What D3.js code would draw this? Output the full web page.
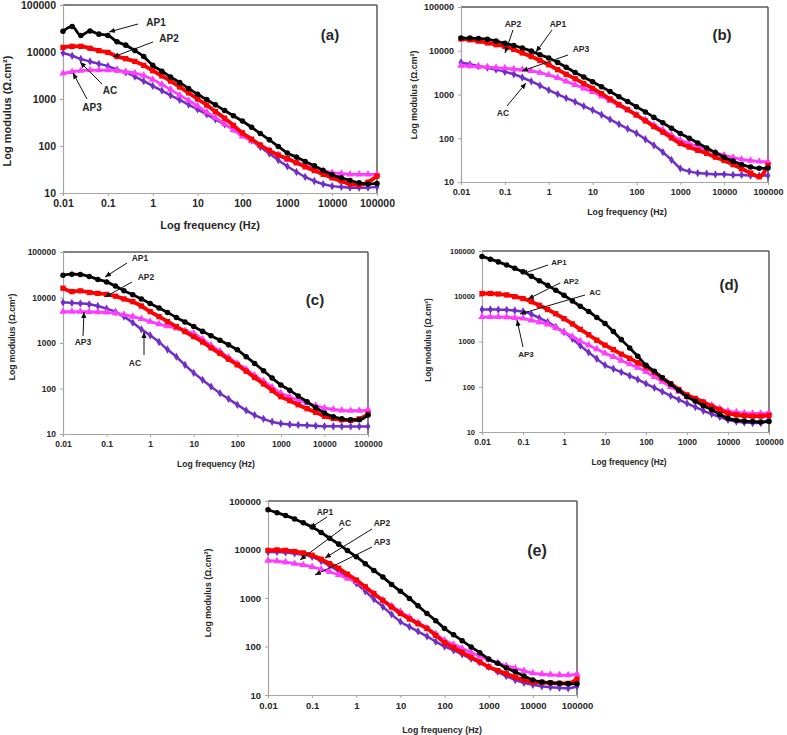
<!DOCTYPE html>
<html><head><meta charset="utf-8">
<script src="https://cdn.jsdelivr.net/npm/d3@7"></script>
<style>
body{margin:0;background:#fff;}
svg{display:block;}
text{font-family:"Liberation Sans",Arial,sans-serif;font-weight:bold;fill:#262626;}
</style></head>
<body>
<svg id="chart" width="787" height="735"></svg>
<script>
// ---------------- DATA ----------------
const freq = [0.01,0.016,0.025,0.04,0.063,0.1,0.16,0.25,0.4,0.63,1,1.6,2.5,4,6.3,10,16,25,40,63,100,160,250,400,630,1000,1600,2500,4000,6300,10000,16000,25000,40000,63000,100000];
const seriesNames = ["AP1","AP2","AP3","AC"];
const xTickValues = [0.01,0.1,1,10,100,1000,10000,100000];
const xTickLabels = ["0.01","0.1","1","10","100","1000","10000","100000"];
const yTickValues = [10,100,1000,10000,100000];
const yTickLabels = ["10","100","1000","10000","100000"];
const xTitle = "Log frequency (Hz)";
const yTitle = "Log modulus (Ω.cm²)";
const panelLabels = ["(a)","(b)","(c)","(d)","(e)"];

// panel (a)
const a_AP1 = [27500,35000,22500,28000,24000,22500,16500,14000,10700,8000,5200,3900,2950,2230,1680,1260,970,750,570,440,340,250,185,135,98,71,58,47,38,30,24.5,21,18.5,16.5,15.5,16];
const a_AP2 = [12500,13200,13200,12000,10700,9800,8000,7200,6300,5200,4000,3100,2400,1800,1350,1000,740,540,390,275,190,140,105,80,64,54,44,36,30,25,21,18,15.5,15,17,23];
const a_AP3 = [3500,3800,4000,4100,4100,4100,4000,3800,3550,3150,2600,2040,1580,1200,930,710,525,400,295,220,160,129,102,81,65,51,45,39,35,30,27,26,25,25,25,25];
const a_AC  = [9500,8300,7100,6300,5600,5000,4200,3700,3000,2400,1900,1510,1200,955,760,600,470,370,290,230,180,130,95,69,50,37,28,22,18,15.5,14,13.5,13,13,13,13.5];
// panel (b)
const b_AP1 = [19500,19500,19000,18200,16600,14800,13200,11500,9800,8100,6800,5400,4200,3200,2500,1950,1510,1170,890,690,525,400,300,225,170,129,100,78,60,47,37,30,25,22,20.5,21];
const b_AP2 = [18600,17800,16600,15100,13800,12600,10700,8900,7400,6000,4800,3700,2900,2300,1780,1380,1050,790,590,450,340,250,185,138,102,76,63,53,45,37,31,25,20,16,13.2,24];
const b_AP3 = [4600,4450,4350,4250,4100,4000,3800,3700,3450,3150,2800,2400,2000,1660,1380,1150,910,720,560,440,340,265,200,155,118,91,76,65,55,47,41,36,33,31,29.5,29];
const b_AC  = [5400,4900,4450,4100,3700,3300,2900,2450,2000,1600,1260,1020,830,680,540,440,345,270,210,165,130,95,69,48,32,20.5,17.5,16,15.5,15,15,14.5,14.5,14,14,14];
// panel (c)
const c_AP1 = [31000,32500,32000,29000,25000,22000,17800,14100,11500,9300,7400,5900,4700,3650,2900,2300,1800,1450,1150,910,710,500,355,245,170,120,91,68,51,38,29,24,21.5,20.5,20.5,26];
const c_AP2 = [16000,13500,14000,12900,12300,11700,10700,9300,8100,6500,4900,3800,2950,2300,1780,1380,1050,780,590,440,330,240,174,126,91,66,54,44,36,30,24.5,22,20.5,20,21.5,27.5];
const c_AP3 = [4900,4900,4900,4850,4800,4700,4550,4200,3800,3400,2950,2600,2350,2100,1850,1620,1200,890,660,480,355,265,195,145,107,79,66,56,48,42,37,35,33,32.5,32.5,34];
const c_AC  = [7800,7600,7400,7100,6500,5700,4800,3800,2800,2000,1480,1050,720,500,330,220,155,110,79,59,44,33,26,21.5,18.6,17,16.2,15.8,15.5,15.1,14.8,14.8,14.7,14.7,14.7,14.7];
// panel (d)
const d_AP1 = [76000,66000,57500,49000,41700,34700,27500,21900,17400,13500,10500,7900,6000,4600,3400,2500,1660,1100,720,470,300,220,158,115,83,60,48,38,31,24.5,20,18.2,17.4,17,16.6,17];
const d_AP2 = [11500,11500,11200,10700,9800,8900,7600,6300,5100,4100,3200,2450,1860,1410,1070,830,660,525,425,340,275,210,155,117,87,66,55,46,37,31,26,24,23,22.4,22.4,23.4];
const d_AP3 = [3500,3500,3500,3450,3350,3250,2950,2700,2400,2000,1620,1290,1020,830,680,550,460,380,315,265,215,165,130,100,78,60,52,45,39,33,29,27.5,26.3,25.7,25.7,26.3];
const d_AC  = [5100,5100,5050,5000,4850,4600,4000,3300,2700,2100,1620,1150,810,575,415,300,250,210,175,145,117,95,78,63,52,43,35.5,29.5,25,21.5,18.6,17,16.2,15.8,15.8,19];
// panel (e)
const e_AP1 = [66000,57500,50000,42700,35500,29000,22400,17000,12900,9500,7100,5100,3700,2700,1900,1380,980,690,480,340,235,174,132,98,74,55,45,36,30,24.5,20.4,18.6,17.8,17.4,17,17];
const e_AP2 = [9600,9800,9600,9100,8500,7600,6300,5100,4100,3100,2350,1700,1230,890,650,480,370,295,235,170,120,95,76,60,48,38,32,27.5,23.4,20.4,18.6,18.2,17.8,17.4,17.4,21.4];
const e_AP3 = [5900,5750,5500,5100,4800,4400,3900,3450,3000,2550,2150,1620,1230,910,690,525,400,310,240,182,135,110,91,76,63,52.5,46,40,35.5,31.6,28.2,27,26.3,25.7,25.7,27];
const e_AC  = [8900,8900,8700,8300,7800,7100,5750,4600,3550,2700,2000,1380,950,660,460,325,255,205,162,126,100,83,69,56,47,38,30,24.5,20.4,17.8,16.2,15.1,14.5,14.1,13.8,15];

// ---------------- STYLE / LAYOUT ----------------
const styles = {
  AP1:{color:"#000000", sym:d3.symbolCircle,   size:24, lw:2.8},
  AP2:{color:"#ff0000", sym:d3.symbolSquare,   size:28, lw:3.8},
  AP3:{color:"#ff3cff", sym:d3.symbolTriangle, size:24, lw:2.8},
  AC: {color:"#6f2fc8", sym:d3.symbolDiamond,  size:20, lw:2.5}
};
const drawOrder = ["AC","AP3","AP2","AP1"];

const panels = [
  {data:{AP1:a_AP1,AP2:a_AP2,AP3:a_AP3,AC:a_AC}, x0:63,x1:377,y0:5,y1:193, tick:10.5, ytick:10.5, title:11,
   xt:[210,225], yt:[7,111], lab:[330,34,15],
   ann:[["AP1",156,22,138,24,109,32],["AP2",169,38,153,42,113,57],["AC",110,90,102,84,80,62],["AP3",92,107,87,99,73,73]], annSize:10},
  {data:{AP1:b_AP1,AP2:b_AP2,AP3:b_AP3,AC:b_AC}, x0:461,x1:768,y0:7,y1:182, tick:9, ytick:9, title:8.8,
   xt:[627,212], yt:[414,95], lab:[722,34,15],
   ann:[["AP2",513,24,513,30,505,53],["AP1",558,24,552,30,536,52],["AP3",581,49,568,55,522,71],["AC",503,113,507,106,526,83]], annSize:8.5},
  {data:{AP1:c_AP1,AP2:c_AP2,AP3:c_AP3,AC:c_AC}, x0:63,x1:368,y0:252,y1:434, tick:8.5, ytick:8.5, title:8.6,
   xt:[216,464], yt:[12,337], lab:[315,299,15],
   ann:[["AP1",140,258,127,263,105,277],["AP2",146,277,132,282,105,297],["AP3",83,342,83,336,84,312],["AC",135,363,144,355,144,332]], annSize:8.5},
  {data:{AP1:d_AP1,AP2:d_AP2,AP3:d_AP3,AC:d_AC}, x0:482,x1:769,y0:251,y1:432, tick:8.5, ytick:7.5, title:8.3,
   xt:[629,462], yt:[428,340], lab:[729,284,15],
   ann:[["AP1",559,262,548,265,522,274],["AP2",571,281,560,283,528,299],["AC",595,292,585,295,520,314],["AP3",526,354,523,347,517,320]], annSize:8},
  {data:{AP1:e_AP1,AP2:e_AP2,AP3:e_AP3,AC:e_AC}, x0:268,x1:577,y0:501,y1:695, tick:9.5, ytick:9.5, title:8.8,
   xt:[442,730], yt:[208,593], lab:[537,550,16],
   ann:[["AP1",325,512,327,517,310,528],["AC",345,523,343,528,300,560],["AP2",382,523,372,529,325,558],["AP3",382,542,372,547,315,575]], annSize:8.5}
];

const svg = d3.select("#chart");
svg.append("defs").append("marker")
  .attr("id","arr").attr("viewBox","0 0 8 8").attr("refX",8).attr("refY",4)
  .attr("markerWidth",6).attr("markerHeight",6).attr("markerUnits","userSpaceOnUse")
  .attr("orient","auto")
  .append("path").attr("d","M0,0.5 L8,4 L0,7.5 Z").attr("fill","#111");

panels.forEach((p,pi)=>{
  const g = svg.append("g");
  const x = d3.scaleLog().domain([0.01,100000]).range([p.x0,p.x1]);
  const y = d3.scaleLog().domain([10,100000]).range([p.y1,p.y0]);

  // frame
  g.append("line").attr("x1",p.x0).attr("x2",p.x1).attr("y1",p.y0).attr("y2",p.y0).attr("stroke","#5a5a5a").attr("stroke-width",1.5);
  g.append("line").attr("x1",p.x1).attr("x2",p.x1).attr("y1",p.y0).attr("y2",p.y1).attr("stroke","#5a5a5a").attr("stroke-width",1.5);

  const xa = g.append("g").attr("transform",`translate(0,${p.y1})`)
    .call(d3.axisBottom(x).tickValues(xTickValues).tickFormat((d,i)=>xTickLabels[i]).tickSize(3).tickPadding(4));
  const ya = g.append("g").attr("transform",`translate(${p.x0},0)`)
    .call(d3.axisLeft(y).tickValues(yTickValues).tickFormat((d,i)=>yTickLabels[i]).tickSize(3).tickPadding(4));
  [xa,ya].forEach(a=>{
    a.select(".domain").attr("stroke","#a6a6a6").attr("stroke-width",1.2);
    a.selectAll(".tick line").attr("stroke","#a6a6a6");
    a.selectAll("text").attr("font-family","Liberation Sans, Arial, sans-serif").attr("font-weight","bold").attr("fill","#262626");
  });
  xa.selectAll("text").attr("font-size",p.tick);
  ya.selectAll("text").attr("font-size",p.ytick);

  // series
  drawOrder.forEach(name=>{
    const st = styles[name];
    const vals = p.data[name];
    const pts = freq.map((f,i)=>[f,vals[i]]);
    g.append("path").datum(pts)
      .attr("fill","none").attr("stroke",st.color).attr("stroke-width",st.lw)
      .attr("d",d3.line().x(d=>x(d[0])).y(d=>y(d[1])).curve(d3.curveMonotoneX));
    const sym = d3.symbol().type(st.sym).size(st.size);
    g.append("g").selectAll("path").data(pts).join("path")
      .attr("d",sym).attr("fill",st.color)
      .attr("transform",d=>`translate(${x(d[0])},${y(d[1])})`);
  });

  // titles
  g.append("text").attr("x",p.xt[0]).attr("y",p.xt[1]).attr("text-anchor","middle")
    .attr("dominant-baseline","central").attr("font-size",p.title).text(xTitle);
  g.append("text").attr("transform",`translate(${p.yt[0]},${p.yt[1]}) rotate(-90)`).attr("text-anchor","middle")
    .attr("dominant-baseline","central").attr("font-size",p.title).text(yTitle);
  g.append("text").attr("x",p.lab[0]).attr("y",p.lab[1]).attr("text-anchor","middle")
    .attr("dominant-baseline","central").attr("font-size",p.lab[2]).attr("fill","#111").text(panelLabels[pi]);

  // annotations
  p.ann.forEach(a=>{
    g.append("line").attr("x1",a[3]).attr("y1",a[4]).attr("x2",a[5]).attr("y2",a[6])
      .attr("stroke","#111").attr("stroke-width",1).attr("marker-end","url(#arr)");
    g.append("text").attr("x",a[1]).attr("y",a[2]).attr("text-anchor","middle")
      .attr("dominant-baseline","central").attr("font-size",p.annSize).text(a[0]);
  });
});
</script>
</body></html>
